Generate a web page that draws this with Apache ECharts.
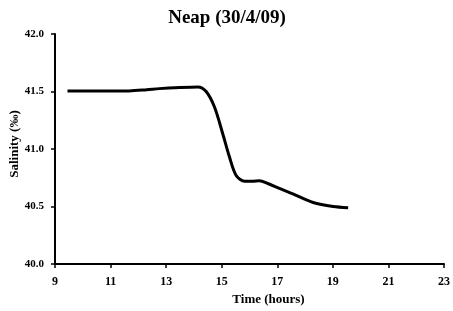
<!DOCTYPE html>
<html>
<head>
<meta charset="utf-8">
<script src="https://cdn.jsdelivr.net/npm/echarts@6/dist/echarts.min.js"></script>
<style>
  html, body { margin: 0; padding: 0; background: #fff; }
  #main { width: 453px; height: 311px; }
</style>
</head>
<body>
<div id="main"></div>
<script>
// time in hours, salinity in ‰
var hours = [9.45, 10.5, 11.67, 12.3, 12.75, 13.5, 14.14, 14.44, 14.74, 15.04, 15.28, 15.52, 15.82, 16.1, 16.36, 16.66, 17.1, 17.56, 18.29, 19.01, 19.55];
var salinity = [41.505, 41.505, 41.505, 41.515, 41.525, 41.535, 41.54, 41.5, 41.365, 41.13, 40.93, 40.77, 40.72, 40.72, 40.725, 40.70, 40.655, 40.61, 40.535, 40.50, 40.49];

var xTicks = [9, 11, 13, 15, 17, 19, 21, 23];
var yTicks = [40.0, 40.5, 41.0, 41.5, 42.0];

var points = [];
for (var i = 0; i < hours.length; i++) {
  points.push([hours[i], salinity[i]]);
}

var serif = 'Liberation Serif';

var chart = echarts.init(document.getElementById('main'));
chart.setOption({
  animation: false,
  backgroundColor: '#fff',
  title: {
    text: 'Neap (30/4/09)',
    left: 222,
    top: 4,
    textAlign: 'center',
    textStyle: { fontFamily: serif, fontWeight: 'bold', fontSize: 19, color: '#000' }
  },
  grid: { left: 55, right: 9, top: 34, bottom: 47, outerBoundsMode: 'none', containLabel: false },
  xAxis: {
    type: 'value',
    min: xTicks[0],
    max: xTicks[xTicks.length - 1],
    interval: 2,
    name: 'Time (hours)',
    nameLocation: 'middle',
    nameGap: 29,
    nameMoveOverlap: false,
    nameTextStyle: { fontFamily: serif, fontWeight: 'bold', fontSize: 13, color: '#000', padding: [0, 0, 0, 38] },
    axisLine: { lineStyle: { color: '#000', width: 2 } },
    axisTick: { show: true, length: 4, lineStyle: { color: '#000', width: 1.5 } },
    axisLabel: {
      margin: 12,
      fontFamily: serif, fontWeight: 'bold', fontSize: 12, color: '#000',
      formatter: function (v) { return xTicks.indexOf(v) >= 0 ? String(v) : ''; }
    },
    splitLine: { show: false }
  },
  yAxis: {
    type: 'value',
    min: yTicks[0],
    max: yTicks[yTicks.length - 1],
    interval: 0.5,
    name: 'Salinity (‰)',
    nameLocation: 'middle',
    nameGap: 34,
    nameMoveOverlap: false,
    nameTextStyle: { fontFamily: serif, fontWeight: 'bold', fontSize: 13, color: '#000', padding: [0, 0, 0, 10] },
    axisLine: { show: true, lineStyle: { color: '#000', width: 2 } },
    axisTick: { show: true, length: 4, lineStyle: { color: '#000', width: 1.5 } },
    axisLabel: {
      margin: 11,
      fontFamily: serif, fontWeight: 'bold', fontSize: 11, color: '#000',
      formatter: function (v) { return v.toFixed(1); }
    },
    splitLine: { show: false }
  },
  series: [{
    type: 'line',
    data: points,
    smooth: 0.3,
    showSymbol: false,
    lineStyle: { color: '#000', width: 3 }
  }]
});
</script>
</body>
</html>
